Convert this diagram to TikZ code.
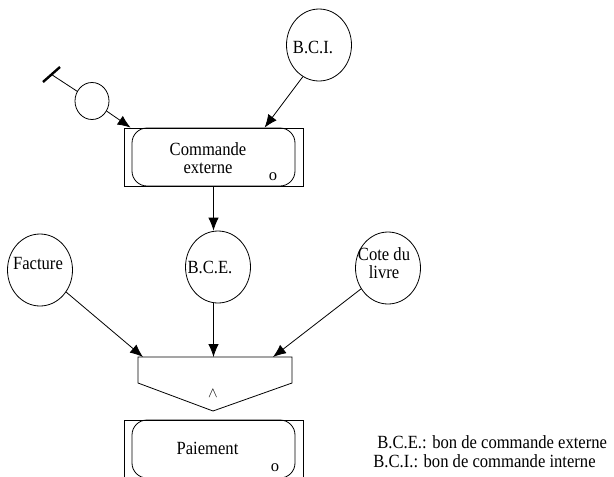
\documentclass[tikz,border=0pt]{standalone}
\usepackage{fontspec}
\setmainfont{Liberation Serif}
\usepackage{graphicx}
\usetikzlibrary{arrows.meta,shapes.geometric,calc}
\newcommand{\vs}[1]{\scalebox{1}[1.12]{#1}}
\begin{document}
\begin{tikzpicture}[x=1pt,y=-1pt,
  font=\fontsize{16.6}{17}\selectfont,
  line width=0.8pt,
  circ/.style={ellipse, draw, minimum width=65pt, minimum height=72pt, inner sep=0pt},
  arr/.style={-{Latex[length=13pt,width=10.5pt]}},
  lbl/.style={inner sep=0pt, align=center},
  outerbox/.style={draw, rectangle, minimum width=179pt, minimum height=58pt, inner sep=0pt},
  innerbox/.style={draw, rectangle, rounded corners=15pt, minimum width=163pt, minimum height=58pt, inner sep=0pt}]
\useasboundingbox (0,0) rectangle (614,477);
\clip (0,0) rectangle (614,477);

% B.C.I.
\node[circ] (bci) at (319,45) {};
\node[lbl] (bcit) at (313,47) {\vs{B.C.I.}};

% start symbol
\node[circ, minimum width=34pt, minimum height=37pt] (start) at (92,101) {};
\coordinate (b1) at (43,82);
\coordinate (b2) at (60,67);
\coordinate (bm) at ($(b1)!0.5!(b2)$);
\draw[line width=2.4pt] (b1) -- (b2);
\draw (bm) -- (start);

% Commande externe
\node[outerbox] (cmd) at (213.5,157) {};
\node[innerbox] (cmdin) at (213.5,157) {};
\node[lbl] (cmdt) at (208,161) {\vs{\begin{tabular}{@{}c@{}}Commande\\[-1pt]externe\end{tabular}}};
\node[lbl] (cmdo) at (273,177) {o};
\coordinate (cin1) at ($(cmd.north west)+(7,0)$);
\coordinate (cin2) at ($(cmd.north west)+(141,0)$);

\draw[arr] (start) -- (cin1);
\draw[arr] (bci.243) -- (cin2);

% Circles row
\node[circ] (fac) at (40,270) {};
\node[lbl] (fact) at (38,263) {\vs{Facture}};
\node[circ] (bce) at (218,267) {};
\node[lbl] (bcet) at (210,267) {\vs{B.C.E.}};
\node[circ] (cote) at (388,268) {};
\node[lbl] (cotet) at (384,265.5) {\vs{\begin{tabular}{@{}c@{}}Cote du\\[-1pt]livre\end{tabular}}};

\draw[arr] (cmd.south) -- (cmd.south |- bce.north);

% Junction
\coordinate (jtl) at (138,357);
\coordinate (jtr) at (292,357);
\coordinate (jbr) at (292,383);
\coordinate (jbot) at (213,411);
\coordinate (jbl) at (138,383);
\draw (jtl) -- (jtr) -- (jbr) -- (jbot) -- (jbl) -- cycle;
\node[lbl] (and) at (213,393) {\fontsize{14}{14}\selectfont$\wedge$};
\coordinate (ja) at (143,357);
\coordinate (jb) at (213.5,357);
\coordinate (jc) at (273,357);

\draw[arr] (fac) -- (ja);
\draw[arr] (bce.south -| jb) -- (jb);
\draw[arr] (cote) -- (jc);

% Paiement
\node[outerbox] (pai) at (213.5,449) {};
\node[innerbox] (paiin) at (213.5,449) {};
\node[lbl] (pait) at (207.5,448) {\vs{Paiement}};
\node[lbl] (paio) at (275,468) {o};

% Legend
\node[lbl, anchor=west] (leg1) at (377,442) {\vs{B.C.E.: bon de commande externe}};
\node[lbl, anchor=west] (leg2) at (373,461) {\vs{B.C.I.: bon de commande interne}};
\end{tikzpicture}
\end{document}
